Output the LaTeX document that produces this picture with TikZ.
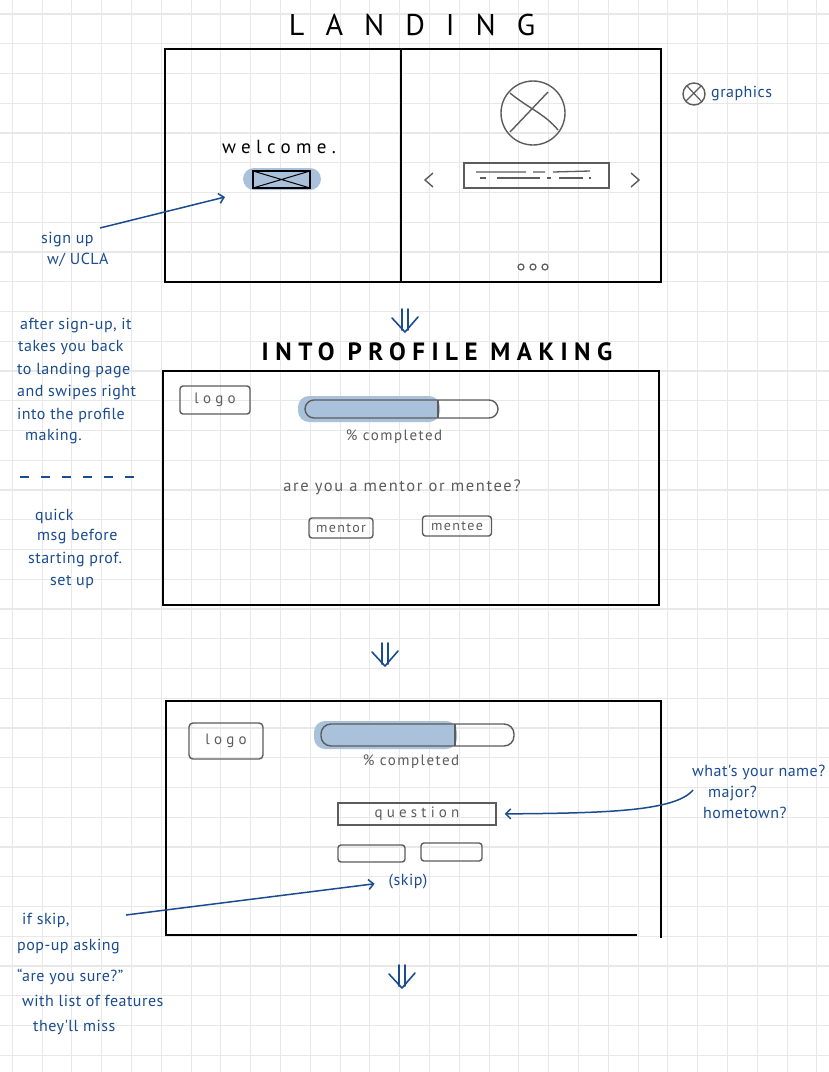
\documentclass[tikz,border=0pt]{standalone}
\usepackage{fontspec}
\setmainfont{PT Sans}
\newfontfamily\notefont[LetterSpace=3]{PT Sans}
\newfontfamily\wirefont[LetterSpace=10]{PT Sans}
\newfontfamily\widefont[LetterSpace=28]{PT Sans}
\newfontfamily\titlefont[LetterSpace=70]{PT Sans}
\newfontfamily\headfont[LetterSpace=26]{PT Sans}
\usetikzlibrary{arrows.meta}
\definecolor{inkblue}{HTML}{1A4C8E}
\definecolor{barblue}{HTML}{A9C1DA}
\definecolor{wiregray}{HTML}{5C5C5C}
\definecolor{gridgray}{HTML}{E8E8E8}
\tikzset{
  gridline/.style={draw=gridgray, line width=1.1pt},
  frame/.style={draw=black, line width=1.8pt},
  wire/.style={draw=wiregray, line width=1.4pt},
  note/.style={text=inkblue, font=\notefont\fontsize{16}{18}\selectfont, anchor=west, inner sep=0pt},
  wiretext/.style={text=wiregray, font=\wirefont\fontsize{14}{16}\selectfont, inner sep=0pt},
  wirebtn/.style={wiretext, font=\wirefont\fontsize{14}{16}\selectfont, draw=wiregray, line width=1.4pt, rounded corners=3pt, minimum height=20pt},
  inkarrow/.style={draw=inkblue, line width=1.5pt, -{Straight Barb[length=5pt,width=10pt]}},
  dblarrow/.pic={
    \draw[draw=inkblue, line width=1.6pt, line cap=round, line join=round]
      (-3,-12) -- (-3,9) (3,-12) -- (3,9) (-13,-3) -- (0,11) -- (13,-4);
  },
}
\begin{document}
\begin{tikzpicture}[x=1pt,y=-1pt]
\useasboundingbox (0,0) rectangle (829,1072);
\fill[white] (0,0) rectangle (829,1072);
% grid paper
\foreach \i in {0,...,27}
  \draw[gridline] ({12.3+29.8*\i},0) -- ({12.3+29.8*\i},1072);
\foreach \j in {0,...,35}
  \draw[gridline] (0,{14+29.75*\j}) -- (829,{14+29.75*\j});

% ---- landing ----
\node[font=\titlefont\fontsize{30}{30}\selectfont, inner sep=0pt] (landing) at (412,25) {LANDING};
\draw[frame] (165,49) rectangle (661,282);
\draw[frame] (401,49) -- (401,282);
\node[font=\widefont\fontsize{19}{20}\selectfont, inner sep=0pt] (welcome) at (279,147) {welcome.};
\node[fill=barblue, rounded corners=11pt, minimum width=78pt, minimum height=22pt] (signbtn) at (282,179) {};
\draw[line width=1.4pt] (253,171) rectangle (310,188);
\draw[line width=1pt] (253,171) -- (310,188) (253,188) -- (310,171);
\node[note] (signup) at (41,240) {sign up};
\node[note] (ucla) at (47,260) {w/ UCLA};
\coordinate (signstart) at (100,228);
\coordinate (signtip) at (225,197);
\draw[inkarrow] (signstart) -- (signtip);
% carousel pane
\draw[wire] (533,113) circle (32);
\draw[wire] (510,93) .. controls (528,108) and (545,114) .. (558,130);
\draw[wire] (548,92) -- (510,132);
\draw[wire] (464,163) rectangle (609,188);
\draw[wire, line width=1.3pt] (476,172) -- (526,172) (533,172) -- (545,172) (553,172) -- (590,171);
\draw[wire, line width=1.3pt] (480,178) -- (486,178) (497,178) -- (540,178) (547,178) -- (551,178) (559,178) -- (583,178) (589,178) -- (591,178);
\draw[wire] (433,173) -- (425,180) -- (433,187);
\draw[wire] (631,173) -- (639,180) -- (631,187);
\foreach \dx in {521,533,545}
  \draw[wire, line width=1.2pt] (\dx,267) circle (3);
% legend
\draw[wire] (694,94) circle (11);
\draw[wire, line width=1.2pt] (687,86) -- (702,102) (701,86) -- (686,101);
\node[note] (graphics) at (711,94) {graphics};

% ---- into profile making ----
\pic (down1) at (405,321) {dblarrow};
\node[font=\headfont\bfseries\fontsize{25}{25}\selectfont, inner sep=0pt] (profile) at (437,352) {INTO PROFILE MAKING};
\draw[frame] (163,371) rectangle (659,605);
\draw[wire, rounded corners=3pt] (180,386) rectangle (250,414);
\node[font=\widefont\fontsize{15}{16}\selectfont, text=wiregray] (logoA) at (215,400) {logo};
\fill[barblue, rounded corners=11pt] (298,396) rectangle (440,422);
\draw[wire, rounded corners=9pt] (305,400) rectangle (498,418);
\draw[wire] (438,400) -- (438,418);
\node[wiretext, font=\wirefont\fontsize{15}{16}\selectfont] (doneA) at (394,437) {\% completed};
\node[wiretext, font=\wirefont\fontsize{16.5}{18}\selectfont] (role) at (402,487) {are you a mentor or mentee?};
\node[wirebtn, minimum width=64pt] (mentor) at (341,528) {mentor};
\node[wirebtn, minimum width=69pt] (mentee) at (457,526) {mentee};
% left notes
\node[note] (nA1) at (20,326) {after sign-up, it};
\node[note] (nA2) at (18,348) {takes you back};
\node[note] (nA3) at (17,371) {to landing page};
\node[note] (nA4) at (17,393) {and swipes right};
\node[note] (nA5) at (17,415) {into the profile};
\node[note] (nA6) at (25,437) {making.};
\draw[draw=inkblue, line width=1.5pt, dash pattern=on 9pt off 12pt] (20,477) -- (143,477);
\node[note] (nB1) at (35,516) {quick};
\node[note] (nB2) at (37,537) {msg before};
\node[note] (nB3) at (28,560) {starting prof.};
\node[note] (nB4) at (50,582) {set up};

% ---- question screen ----
\pic (down2) at (385,655) {dblarrow};
\draw[frame] (637,935) -- (166,935) -- (166,701) -- (661,701) -- (661,938);
\draw[wire, rounded corners=4pt] (189,723) rectangle (263,759);
\node[font=\widefont\fontsize{15}{16}\selectfont, text=wiregray] (logoB) at (226,741) {logo};
\fill[barblue, rounded corners=11pt] (314,721) rectangle (457,749);
\draw[wire, rounded corners=10pt] (321,724) rectangle (514,746);
\draw[wire] (455,724) -- (455,746);
\node[wiretext, font=\wirefont\fontsize{15}{16}\selectfont] (doneB) at (411,762) {\% completed};
\node[draw=wiregray, line width=1.4pt, minimum width=158pt, minimum height=22pt, text=wiregray, font=\widefont\fontsize{15}{16}\selectfont] (question) at (417,814) {question};
\draw[wire, rounded corners=3pt] (338,845) rectangle (405,862);
\draw[wire, rounded corners=3pt] (421,843) rectangle (482,861);
\node[text=inkblue, font=\notefont\fontsize{16}{18}\selectfont, inner sep=0pt] (skip) at (408,882) {(skip)};
% right note
\node[note] (nC1) at (692,772) {what's your name?};
\node[note] (nC2) at (708,793) {major?};
\node[note] (nC3) at (703,813) {hometown?};
\coordinate (qstart) at (693,790);
\draw[inkarrow, shorten >=8pt] (qstart) .. controls (675,812) and (600,813) .. (question.east);
% bottom left note
\node[note] (nD1) at (22,920) {if skip,};
\node[note] (nD2) at (17,947) {pop-up asking};
\node[note] (nD3) at (17,977) {“are you sure?”};
\node[note] (nD4) at (22,1001) {with list of features};
\node[note] (nD5) at (33,1027) {they'll miss};
\coordinate (skipstart) at (126,915);
\draw[inkarrow, shorten >=14pt] (skipstart) -- (skip.west);
\pic (down3) at (402,977) {dblarrow};
\end{tikzpicture}
\end{document}
